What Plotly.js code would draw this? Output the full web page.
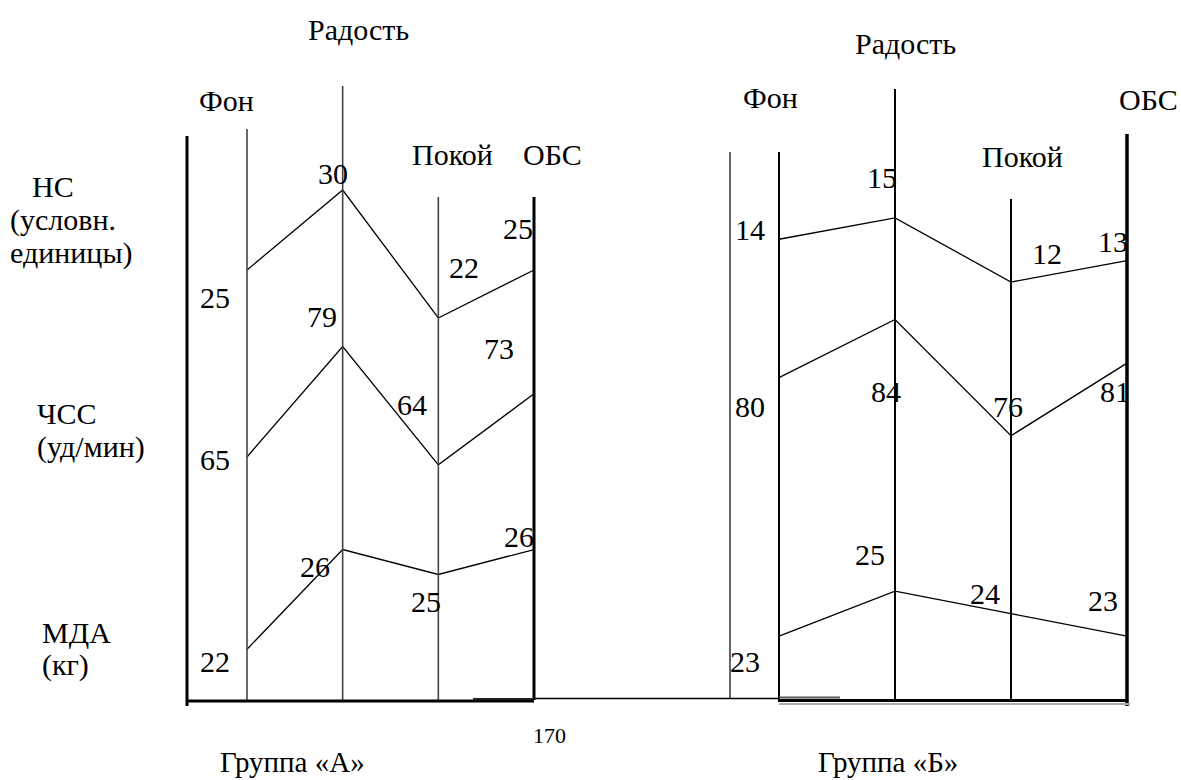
<!DOCTYPE html>
<html>
<head>
<meta charset="utf-8">
<script src="https://cdn.plot.ly/plotly-3.0.1.min.js"></script>
<style>
html,body{margin:0;padding:0;background:#fff;}
#chart{width:1181px;height:780px;}
</style>
</head>
<body>
<div id="chart"></div>
<script>
// ---- data ----
const stages = ['Фон', 'Радость', 'Покой', 'ОБС'];
const nsA  = [25, 30, 22, 25];   // НС, группа А
const hrA  = [65, 79, 64, 73];   // ЧСС, группа А
const mdaA = [22, 26, 25, 26];   // МДА, группа А
const nsB  = [14, 15, 12, 13];   // НС, группа Б
const hrB  = [80, 84, 76, 81];   // ЧСС, группа Б
const mdaB = [23, 25, 24, 23];   // МДА, группа Б
const groupNames = ['Группа «А»', 'Группа «Б»'];
const rowLabels = [['НС', '(условн.', 'единицы)'], ['ЧСС', '(уд/мин)'], ['МДА', '(кг)']];
const pageNumber = '170';

// ---- layout helpers (positions/styles only) ----
const W = 1181, H = 780;
const P = py => 1 - py / H;      // pixel row -> paper y
const PX = px => px / W;         // pixel column -> paper x
const FONT = 'Liberation Serif, Times New Roman, serif';

const idx = stages.map((s, i) => i);

function series(xa, ya, vals) {
  return { x: stages, y: vals, xaxis: xa, yaxis: ya, type: 'scatter', mode: 'lines',
           line: { color: '#000', width: 1.3 }, hoverinfo: 'skip', cliponaxis: false };
}
const traces = [
  series('x', 'y', nsA), series('x', 'y2', hrA), series('x', 'y3', mdaA),
  series('x2', 'y4', nsB), series('x2', 'y5', hrB), series('x2', 'y6', mdaB)
];

// value-label offsets [xshift, yshift] per point
const shiftNsA  = [[-32, -27], [-10, 17], [26, 51], [-16, 42]];
const shiftHrA  = [[-32, -3], [-21, 30], [-26, 60], [-35, 45]];
const shiftMdaA = [[-32, -12], [-28, -17], [-12, -27], [-15, 13]];
const shiftNsB  = [[-29, 10], [-13, 40], [36, 29], [-14, 19]];
const shiftHrB  = [[-29, -29], [-9, -72], [-3, 29], [-12, -28]];
const shiftMdaB = [[-34, -25], [-25, 37], [-26, 20], [-24, 36]];

const annotations = [];
function txt(o) {
  return Object.assign({ showarrow: false, xanchor: 'center', yanchor: 'middle',
    font: { family: FONT, size: 30, color: '#000' } }, o);
}
function valueLabels(xref, yref, vals, shifts) {
  vals.forEach((v, i) => annotations.push(txt({
    xref: xref, yref: yref, x: i, y: v, text: String(v),
    xshift: shifts[i][0], yshift: shifts[i][1] })));
}
valueLabels('x', 'y', nsA, shiftNsA);
valueLabels('x', 'y2', hrA, shiftHrA);
valueLabels('x', 'y3', mdaA, shiftMdaA);
valueLabels('x2', 'y4', nsB, shiftNsB);
valueLabels('x2', 'y5', hrB, shiftHrB);
valueLabels('x2', 'y6', mdaB, shiftMdaB);

// stage headers: [xshift, pixel row]
const headA = [[-21, 101], [16, 30], [14, 155], [18, 155]];
const headB = [[-9, 97], [10, 43], [11, 157], [21, 100]];
stages.forEach((s, i) => {
  annotations.push(txt({ xref: 'x', yref: 'paper', x: i, y: P(headA[i][1]), xshift: headA[i][0], text: s }));
  annotations.push(txt({ xref: 'x2', yref: 'paper', x: i, y: P(headB[i][1]), xshift: headB[i][0], text: s }));
});

// row labels on the left
const rowPos = [[[30, 186], [8, 220], [8, 253]], [[35, 413], [35, 447]], [[40, 632], [40, 665]]];
rowLabels.forEach((lines, r) => lines.forEach((t, k) => annotations.push(txt({
  xref: 'paper', yref: 'paper', x: PX(rowPos[r][k][0]), y: P(rowPos[r][k][1]),
  text: t, xanchor: 'left' }))));

// group names and page number
annotations.push(txt({ xref: 'paper', yref: 'paper', x: PX(292), y: P(762), text: groupNames[0],
  font: { family: FONT, size: 29, color: '#000' } }));
annotations.push(txt({ xref: 'paper', yref: 'paper', x: PX(888), y: P(762), text: groupNames[1],
  font: { family: FONT, size: 29, color: '#000' } }));
annotations.push(txt({ xref: 'paper', yref: 'paper', x: PX(549), y: P(735), text: pageNumber,
  font: { family: FONT, size: 22, color: '#000' } }));

// ---- vertical stage lines and frame ----
const shapes = [];
function vline(xref, x, top, bottom, width, color) {
  shapes.push({ type: 'line', xref: xref, yref: 'paper', x0: x, x1: x, y0: P(top), y1: P(bottom),
    line: { color: color, width: width } });
}
function hline(x0, x1, y, width, color) {
  shapes.push({ type: 'line', xref: 'paper', yref: 'paper', x0: PX(x0), x1: PX(x1), y0: P(y), y1: P(y),
    line: { color: color, width: width } });
}
// group A
const topA = [129, 86, 197, 197];
idx.forEach(i => vline('x', i, topA[i], 700, i === 3 ? 3 : 1.6, i === 3 ? '#000' : '#444'));
vline('paper', PX(187), 136, 706, 3, '#000');
// group B
const topB = [152, 89, 199, 134];
idx.forEach(i => vline('x2', i, topB[i], i === 3 ? 706 : 702, i === 3 ? 3.5 : 2, '#000'));
vline('paper', PX(730), 152, 698, 1.5, '#333');
// baselines
hline(187, 534, 701, 3, '#000');
hline(473, 533, 699, 2, '#222');
hline(534, 779, 698.5, 1.5, '#000');
hline(779, 1130, 704, 2.2, '#aaa');
hline(779, 1127, 700.5, 3, '#000');
hline(779, 840, 697.5, 1.8, '#555');

const hidden = { visible: false, showgrid: false, zeroline: false, fixedrange: true };
function makeLayout() {
  return {
    width: W, height: H, margin: { l: 0, r: 0, t: 0, b: 0, pad: 0 },
    paper_bgcolor: '#fff', plot_bgcolor: 'rgba(0,0,0,0)', showlegend: false,
    font: { family: FONT, size: 30, color: '#000' },
    xaxis:  Object.assign({ type: 'category', domain: [0, 1], range: [-2.5819, 9.7631], anchor: 'y' }, hidden),
    xaxis2: Object.assign({ type: 'category', domain: [0, 1], range: [-6.7155, 3.4655], anchor: 'y4' }, hidden),
    yaxis:  Object.assign({ domain: [0, 1], range: [-6.875, 41.875], anchor: 'x' }, hidden),
    yaxis2: Object.assign({ domain: [0, 1], range: [24.06, 122.91], anchor: 'x', overlaying: 'y' }, hidden),
    yaxis3: Object.assign({ domain: [0, 1], range: [16.76, 48.03], anchor: 'x', overlaying: 'y' }, hidden),
    yaxis4: Object.assign({ domain: [0, 1], range: [-11.27, 25.18], anchor: 'x2' }, hidden),
    yaxis5: Object.assign({ domain: [0, 1], range: [52.31, 105.99], anchor: 'x2', overlaying: 'y4' }, hidden),
    yaxis6: Object.assign({ domain: [0, 1], range: [16.59, 51.33], anchor: 'x2', overlaying: 'y4' }, hidden),
    shapes: JSON.parse(JSON.stringify(shapes)),
    annotations: JSON.parse(JSON.stringify(annotations))
  };
}

// full redraw so that text picks up the serif font once it is available
function draw() {
  const gd = document.getElementById('chart');
  Plotly.purge(gd);
  return Plotly.newPlot(gd, JSON.parse(JSON.stringify(traces)), makeLayout(), { displayModeBar: false });
}
draw();
draw();
if (document.fonts && document.fonts.load) {
  document.fonts.load('30px "Liberation Serif"').then(draw, draw);
}
setTimeout(draw, 60);
setTimeout(draw, 250);
</script>
</body>
</html>
